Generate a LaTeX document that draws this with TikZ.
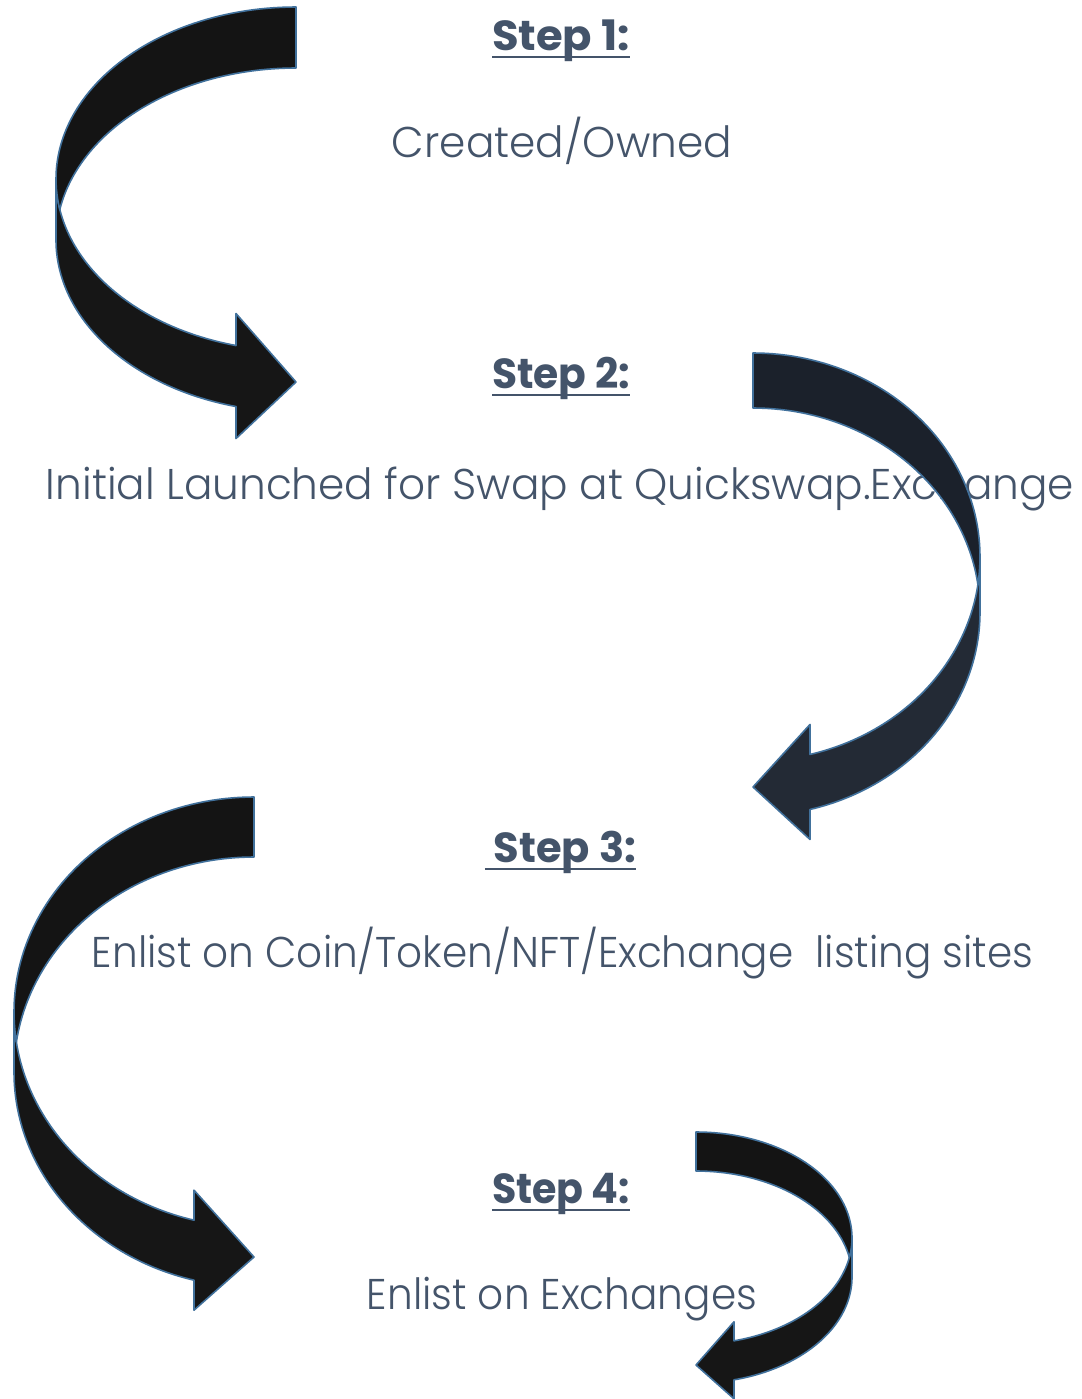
\documentclass[tikz,border=0pt]{standalone}
\usepackage{fontspec}
\setmainfont{Poppins}[UprightFont=* Light, BoldFont=* Bold]
\newsavebox{\ulbox}
\newcommand{\ulbar}[1]{\sbox{\ulbox}{#1}\rlap{\rule[-4.2pt]{\wd\ulbox}{1.4pt}}\usebox{\ulbox}}
\newcommand{\fitw}[2]{\resizebox{#1}{\height}{#2}}
\definecolor{txt}{HTML}{44546A}
\definecolor{arrblk}{HTML}{161616}
\definecolor{arrblkup}{HTML}{141414}
\definecolor{navylow}{HTML}{232A35}
\definecolor{navyup}{HTML}{1B212B}
\definecolor{outl}{HTML}{41719C}
\tikzset{
  arrlow/.style={fill=arrblk, draw=outl, line width=0.8pt, line join=round},
  arrup/.style={fill=arrblkup, draw=outl, line width=0.8pt, line join=round},
  steptxt/.style={font=\bfseries\fontsize{21pt}{25pt}\selectfont, text=txt, inner sep=0pt, anchor=base},
  bodytxt/.style={font=\fontsize{21.5pt}{26pt}\selectfont, text=txt, inner sep=0pt, anchor=base}
}
% #1 ox, #2 oy, #3 xscale, #4 w, #5 th, #6 hR, #7 ah, #8 dh, #9 tip y
\newcommand{\curvedarrow}[9]{%
  \begin{scope}[shift={(#1,#2)}, xscale=#3]
    \pgfmathsetmacro\tA{acos(-#7/#4)}
    \pgfmathsetmacro\tP{asin(#5/(2*#6))}
    \pgfmathsetmacro\yfive{#6+#6*sin(\tA)}
    \pgfmathsetmacro\yseven{\yfive+#5}
    \pgfmathsetmacro\yfour{\yfive-#8}
    \pgfmathsetmacro\yeight{\yseven+#8}
    \pgfmathsetmacro\tPa{180-\tP}
    \pgfmathsetmacro\tPb{180+\tP}
    \path[arrlow] (-#4,#6)
      -- plot[domain=180:\tA, samples=60] ({#4*cos(\x)},{#6+#6*sin(\x)})
      -- (-#7,\yfour) -- (0,#9) -- (-#7,\yeight)
      -- plot[domain=\tA:180, samples=60] ({#4*cos(\x)},{#6+#5+#6*sin(\x)})
      -- cycle;
    \path[arrup] (0,0)
      -- plot[domain=270:\tPa, samples=60] ({#4*cos(\x)},{#6+#6*sin(\x)})
      -- plot[domain=\tPb:270, samples=60] ({#4*cos(\x)},{#6+#5+#6*sin(\x)})
      -- cycle;
  \end{scope}}
\begin{document}
\begin{tikzpicture}[x=0.5pt, y=-0.5pt]
  \useasboundingbox[fill=white] (0,0) rectangle (1082,1399);
  % texts
  \node[steptxt] (s1) at (561,50) {\fitw{69pt}{\ulbar{Step 1:}}};
  \node[bodytxt] (t1) at (562,157) {\fitw{170pt}{Created/Owned}};
  \node[steptxt] (s2) at (561,388) {\fitw{69pt}{\ulbar{Step 2:}}};
  \node[bodytxt] (t2) at (560,499) {\fitw{514pt}{Initial Launched for Swap at Quickswap.Exchange}};
  \node[steptxt] (s3) at (560.5,862) {\fitw{75.5pt}{\ulbar{\ Step 3:}}};
  \node[bodytxt] (t3) at (562.5,967) {\fitw{470.5pt}{Enlist on Coin/Token/NFT/Exchange\ \ listing sites}};
  \node[steptxt] (s4) at (561,1203) {\fitw{69pt}{\ulbar{Step 4:}}};
  \node[bodytxt] (t4) at (562,1309) {\fitw{195pt}{Enlist on Exchanges}};
  % arrows
  \curvedarrow{296}{7}{1}{240}{61}{172}{60}{32}{375}
  \begin{scope}[arrlow/.append style={fill=navylow}, arrup/.append style={fill=navyup}]
    \curvedarrow{753}{353}{-1}{227}{55}{204}{57}{30}{434}
  \end{scope}
  \curvedarrow{254}{797}{1}{240}{60}{215}{60}{30}{460}
  \curvedarrow{696}{1132}{-1}{156}{39}{106}{38}{19}{233}
\end{tikzpicture}
\end{document}
